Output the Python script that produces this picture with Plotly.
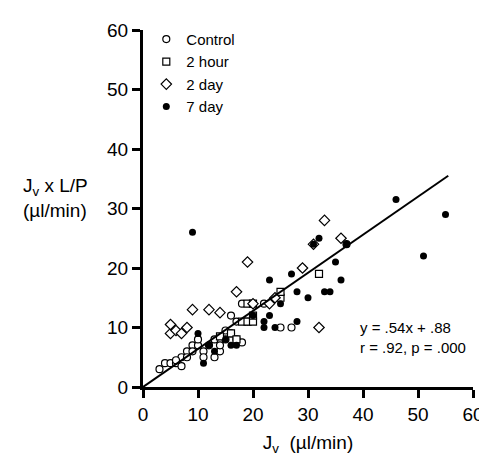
import plotly.graph_objects as go

control_x = [3, 4, 5, 6, 7, 7, 8, 9, 10, 11, 12, 13, 14, 15, 16, 17, 18, 13, 11, 15, 17, 18, 16, 19, 22, 25, 27, 29, 37, 8, 10, 14, 6, 9]
control_y = [3, 4, 4, 4, 3.5, 5, 6, 7, 7, 6, 7, 8, 6, 8, 9, 8, 7.5, 5, 5, 9.5, 11, 14, 12, 11, 14, 10, 10, 20, 24, 5, 8, 7, 4.5, 6]
hour2_x = [14, 16, 18, 19, 20, 20, 25, 25, 32, 17, 19, 20]
hour2_y = [8.5, 9, 11, 11, 11, 12, 15, 16, 19, 8, 14, 14]
day2_x = [5, 5, 6, 7, 8, 9, 12, 14, 17, 19, 23, 29, 31, 33, 32, 36, 20, 24]
day2_y = [9, 10.5, 9.5, 9, 10, 13, 13, 12.5, 16, 21, 14, 20, 24, 28, 10, 25, 14, 15]
day7_x = [9, 10, 11, 13, 12, 15, 16, 17, 20, 22, 23, 23, 25, 27, 28, 28, 30, 31, 32, 33, 34, 35, 36, 37, 46, 51, 55, 24, 22]
day7_y = [26, 9, 4, 6, 7, 8, 7, 7, 12, 10, 12, 18, 14, 19, 16, 11, 15, 24, 25, 16, 16, 21, 18, 24, 31.5, 22, 29, 10, 11]
line_x = [0, 55.5]
line_y = [0, 35.5]

fig = go.Figure()
mk = dict(size=7, color="white", line=dict(color="black", width=1.2))
fig.add_trace(go.Scatter(x=control_x, y=control_y, mode="markers", name="Control", marker=dict(symbol="circle", **mk)))
fig.add_trace(go.Scatter(x=hour2_x, y=hour2_y, mode="markers", name="2 hour", marker=dict(symbol="square", **mk)))
fig.add_trace(go.Scatter(x=day2_x, y=day2_y, mode="markers", name="2 day", marker=dict(symbol="diamond", size=8, color="white", line=dict(color="black", width=1.2))))
fig.add_trace(go.Scatter(x=day7_x, y=day7_y, mode="markers", name="7 day", marker=dict(symbol="circle", size=7, color="black")))
fig.add_trace(go.Scatter(x=line_x, y=line_y, mode="lines", line=dict(color="black", width=2), showlegend=False))

fig.add_annotation(x=59, y=8.3, xref="x", yref="y", text="y = .54x + .88<br>r = .92, p = .000",
                   showarrow=False, xanchor="right", align="left", font=dict(size=15))
fig.add_annotation(x=-0.37, y=0.53, xref="paper", yref="paper", text="J<sub>v</sub> x L/P<br>(µl/min)",
                   showarrow=False, xanchor="left", align="left", font=dict(size=19))

ax = dict(showline=True, linecolor="black", linewidth=3, ticks="outside", ticklen=8, tickwidth=3,
          tickcolor="black", showgrid=False, zeroline=False, automargin=False,
          tickfont=dict(size=19, color="black"))
fig.update_xaxes(range=[0, 60], dtick=10, title=dict(text="J<sub>v</sub>  (µl/min)", font=dict(size=19), standoff=12), **ax)
fig.update_yaxes(range=[0, 60], dtick=10, **ax)
fig.update_layout(
    width=487, height=460, margin=dict(l=135, r=22, t=22, b=81, autoexpand=False),
    paper_bgcolor="white", plot_bgcolor="white",
    font=dict(family="Liberation Sans, Arial", color="black"),
    legend=dict(x=0.01, y=1.02, xanchor="left", yanchor="top", bgcolor="rgba(0,0,0,0)",
                font=dict(size=15), tracegroupgap=0, itemwidth=30),
)
fig.write_html("out.html")
